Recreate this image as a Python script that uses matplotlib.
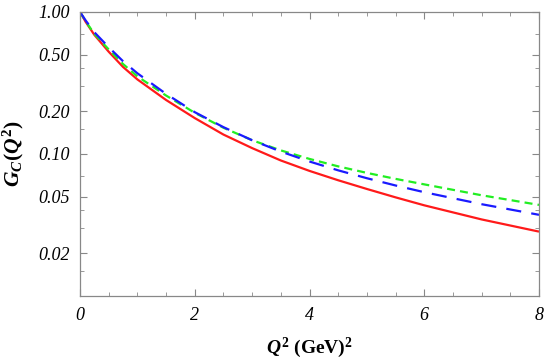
import matplotlib
matplotlib.use("Agg")
import matplotlib.pyplot as plt
from matplotlib.ticker import FixedLocator, MultipleLocator, NullFormatter

# values
q2 = [0, 0.1, 0.25, 0.5, 0.75, 1, 1.5, 2, 2.5, 3, 3.5, 4, 4.5, 5, 5.5, 6, 7, 8]
gc_red = [1.0, 0.85, 0.69, 0.525, 0.41, 0.335, 0.240, 0.179, 0.137, 0.110, 0.090,
          0.0760, 0.0653, 0.0567, 0.0495, 0.0435, 0.0346, 0.0284]
gc_blue = [1.0, 0.87, 0.72, 0.565, 0.45, 0.37, 0.265, 0.197, 0.1545, 0.125, 0.104,
           0.0885, 0.0767, 0.0675, 0.060, 0.0538, 0.0443, 0.0373]
gc_green = [1.0, 0.86, 0.70, 0.545, 0.43, 0.352, 0.258, 0.195, 0.153, 0.125, 0.106,
            0.0923, 0.0818, 0.0736, 0.0668, 0.0611, 0.0512, 0.0438]

yticks = [0.02, 0.05, 0.10, 0.20, 0.50, 1.00]
yticklabels = ["0.02", "0.05", "0.10", "0.20", "0.50", "1.00"]

plt.rcParams["mathtext.fontset"] = "custom"
plt.rcParams["mathtext.it"] = "Liberation Serif:bold:italic"
plt.rcParams["mathtext.rm"] = "Liberation Serif:bold"
plt.rcParams["mathtext.bf"] = "Liberation Serif:bold"

fig = plt.figure(figsize=(5.45, 3.63), dpi=100)
ax = fig.add_axes([0.1468, 0.1846, 0.8422, 0.7824])

ax.plot(q2, gc_red, color="#ff1a1a", lw=1.6, solid_capstyle="butt")
ax.plot(q2, gc_green, color="#22ee22", lw=1.6, dashes=(3.6, 2.3))
ax.plot(q2, gc_blue, color="#1a1aff", lw=1.6, dashes=(6.8, 4.6))

ax.set_yscale("log")
ax.set_xlim(0, 8)
ax.set_ylim(0.01, 1.0)

ax.yaxis.set_major_locator(FixedLocator(yticks))
ax.set_yticklabels(yticklabels)
ax.yaxis.set_minor_locator(FixedLocator([0.03, 0.04, 0.3, 0.4, 0.015, 0.07, 0.15, 0.7]))
ax.yaxis.set_minor_formatter(NullFormatter())
ax.xaxis.set_major_locator(MultipleLocator(2))
ax.xaxis.set_minor_locator(MultipleLocator(0.5))

for lab in ax.get_xticklabels() + ax.get_yticklabels():
    lab.set_fontfamily("Liberation Serif")
    lab.set_fontstyle("italic")
    lab.set_fontsize(13)

for s in ax.spines.values():
    s.set_color("#888888")
    s.set_linewidth(0.9)
ax.tick_params(which="both", direction="in", color="#888888", top=True, right=True)
ax.tick_params(which="major", length=5, width=0.8)
ax.tick_params(axis="y", which="major", pad=7)
ax.tick_params(axis="x", which="major", pad=8)
ax.tick_params(which="minor", length=3, width=0.6)

ax.set_xlabel(r"$Q^2$ (GeV)$^2$", fontfamily="Liberation Serif", fontweight="bold", fontsize=14, labelpad=8)
ax.set_ylabel(r"$G_C(Q^2)$", fontsize=15.5, labelpad=9)

fig.savefig("out.png", dpi=100)
